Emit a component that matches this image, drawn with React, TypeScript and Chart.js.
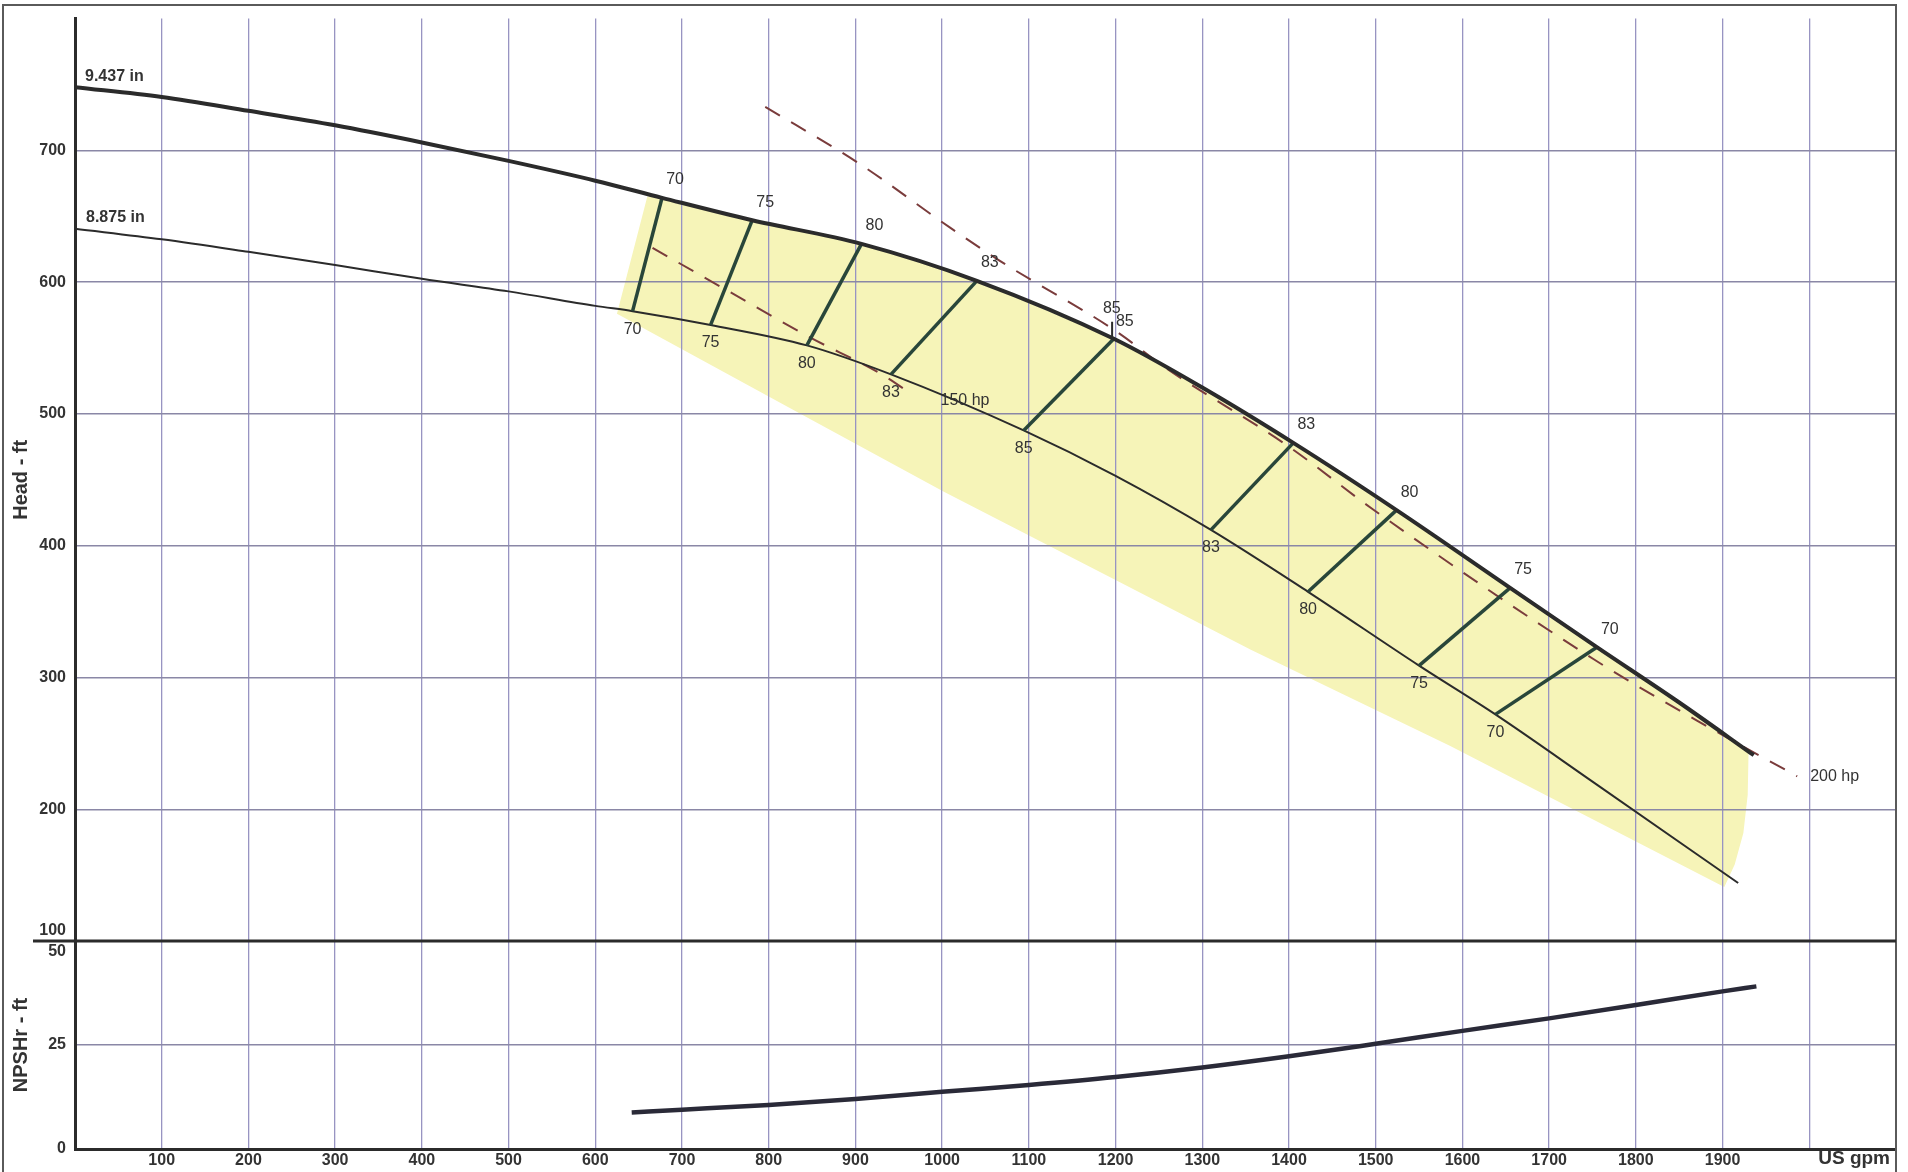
import React, { useEffect, useRef } from "react";
import { Chart, registerables } from "chart.js";

Chart.register(...registerables);

// ---------- data (flow in US gpm, head in ft, NPSHr in ft) ----------
const flow9437 = [0, 100, 200, 300, 400, 500, 600, 677, 781, 907, 1040, 1198, 1300, 1405, 1524, 1655, 1755, 1850, 1936];
const head9437 = [748, 740.5, 730, 719, 706, 692, 677, 664, 647, 629, 601, 557, 520, 478, 427, 368, 323, 281, 241];

const flow8875 = [0, 100, 200, 300, 400, 500, 600, 643, 733, 844, 941, 1094, 1200, 1310, 1422, 1550, 1638, 1750, 1918];
const head8875 = [640.5, 632.5, 623, 613, 602.5, 593, 582, 578, 567.5, 552, 530, 487.5, 453, 412, 365, 309, 272, 221, 144];

const flow150hp = [666, 750, 845, 933, 967];
const head150hp = [626, 594.5, 559, 529, 514];

const flow200hp = [796, 902, 1010, 1067, 1200, 1260, 1398, 1497, 1751, 1874, 1986];
const head200hp = [733, 691, 641, 616, 563, 534, 476, 427.5, 314, 266, 225];

const effLabels = [70, 75, 80, 83, 85, 83, 80, 75, 70];
const effFlowHigh = [677, 781, 907, 1040, 1198, 1405, 1524, 1655, 1755];
const effHeadHigh = [664, 647, 629, 601, 557, 478, 427, 368, 323];
const effFlowLow = [643, 733, 844, 941, 1094, 1310, 1422, 1550, 1638];
const effHeadLow = [578, 567.5, 552, 530, 487.5, 412, 365, 309, 272];

const bepMarkFlow = [1196, 1196];
const bepMarkHead = [557, 570];

const regionFlow = [660, 677, 781, 907, 1040, 1198, 1300, 1405, 1524, 1655, 1755, 1850, 1930, 1929, 1924, 1914, 1902, 1586, 1356, 1200, 1002, 837, 625, 660];
const regionHead = [665, 664, 647, 629, 601, 557, 520, 478, 427, 368, 323, 281, 244, 211, 182, 158, 141, 248, 321, 374, 441, 500, 576, 665];

const npshFlow = [642, 700, 800, 900, 1000, 1100, 1200, 1300, 1400, 1500, 1600, 1700, 1800, 1900, 1939];
const npshValues = [8.8, 9.45, 10.6, 12.0, 13.75, 15.4, 17.3, 19.6, 22.3, 25.3, 28.4, 31.4, 34.6, 37.9, 39.1];

const curveNames = ["9.437 in", "8.875 in"];
const powerNames = ["150 hp", "200 hp"];
const flowUnit = "US gpm";
const headTitle = "Head - ft";
const npshTitle = "NPSHr - ft";

// ---------- styles ----------
const FONT = '"Liberation Sans", Arial, Helvetica, sans-serif';
const GRID_V = "#9894c2";
const GRID_H = "#8a87a6";
const DARK = "#2b2b2b";
const EFF = "#29463a";
const DASH = "#7a3c3c";
const TEXT = "#333333";
const NONE = "rgba(0,0,0,0)";

const pts = (xs: number[], ys: number[]) => xs.map((x, i) => ({ x, y: ys[i] }));

const annotate = {
  id: "annotate",
  afterDraw(chart: any) {
    const { ctx, scales } = chart;
    const xs = scales.x;
    const ys = scales.y;
    const yn = scales.yN;
    const px = (f: number) => xs.getPixelForValue(f);
    const py = (h: number) => ys.getPixelForValue(h);
    ctx.save();

    // outer frame
    ctx.strokeStyle = "#5a5a5a";
    ctx.lineWidth = 2;
    ctx.strokeRect(3, 5, xs.right - 3, 1300);

    // separator between head and NPSH panels
    const sepY = ys.getPixelForValue(100);
    ctx.strokeStyle = DARK;
    ctx.lineWidth = 3;
    ctx.beginPath();
    ctx.moveTo(33, sepY);
    ctx.lineTo(xs.right, sepY);
    ctx.stroke();

    ctx.textBaseline = "middle";
    ctx.fillStyle = TEXT;

    // 100 / 50 labels around the separator
    ctx.font = `bold 16px ${FONT}`;
    ctx.textAlign = "right";
    ctx.fillText("100", xs.left - 9, sepY - 10);
    ctx.fillText("50", xs.left - 9, yn.getPixelForValue(50) + 10.5);

    // unit label on the flow axis
    ctx.font = `bold 19px ${FONT}`;
    ctx.fillText(flowUnit, xs.right - 6, xs.top + 10);

    // efficiency labels
    ctx.font = `16px ${FONT}`;
    ctx.textAlign = "center";
    effLabels.forEach((v, i) => {
      const hx = px(effFlowHigh[i]);
      const hy = py(effHeadHigh[i]);
      if (v === 85) {
        ctx.fillText(String(v), hx - 2, hy - 30);
        ctx.fillText(String(v), hx + 11, hy - 17);
      } else {
        ctx.fillText(String(v), hx + 13, hy - 18);
      }
      ctx.fillText(String(v), px(effFlowLow[i]), py(effHeadLow[i]) + 18);
    });

    // curve names
    ctx.textAlign = "left";
    ctx.font = `bold 16px ${FONT}`;
    ctx.fillText(curveNames[0], px(flow9437[0]) + 10, py(head9437[0]) - 11);
    ctx.fillText(curveNames[1], px(flow8875[0]) + 11, py(head8875[0]) - 11);

    // power lines
    ctx.font = `16px ${FONT}`;
    const l150 = flow150hp.length - 1;
    ctx.fillText(powerNames[0], px(flow150hp[l150]) + 27, py(head150hp[l150]) + 5);
    const l200 = flow200hp.length - 1;
    ctx.fillText(powerNames[1], px(flow200hp[l200]) + 13, py(head200hp[l200]));

    ctx.restore();
  },
};

export default function App() {
  const ref = useRef<HTMLCanvasElement>(null);

  useEffect(() => {
    const canvas = ref.current;
    if (!canvas) return;
    Chart.defaults.font.family = FONT;

    const datasets: any[] = [];
    const base = { pointRadius: 0, pointHoverRadius: 0, fill: false, tension: 0 };

    datasets.push({
      ...base,
      label: "9.437 in",
      data: pts(flow9437, head9437),
      borderColor: DARK,
      borderWidth: 4,
      cubicInterpolationMode: "monotone",
      order: 1,
    });
    datasets.push({
      ...base,
      label: "8.875 in",
      data: pts(flow8875, head8875),
      borderColor: DARK,
      borderWidth: 2,
      cubicInterpolationMode: "monotone",
      order: 3,
    });
    effLabels.forEach((v, i) => {
      datasets.push({
        ...base,
        label: "eff " + v,
        data: [
          { x: effFlowHigh[i], y: effHeadHigh[i] },
          { x: effFlowLow[i], y: effHeadLow[i] },
        ],
        borderColor: EFF,
        borderWidth: 3.5,
        order: 2,
      });
    });
    datasets.push({
      ...base,
      label: "bep mark",
      data: pts(bepMarkFlow, bepMarkHead),
      borderColor: DARK,
      borderWidth: 2,
      order: 2,
    });
    datasets.push({
      ...base,
      label: "150 hp",
      data: pts(flow150hp, head150hp),
      borderColor: DASH,
      borderWidth: 2,
      borderDash: [17, 13],
      cubicInterpolationMode: "monotone",
      order: 4,
    });
    datasets.push({
      ...base,
      label: "200 hp",
      data: pts(flow200hp, head200hp),
      borderColor: DASH,
      borderWidth: 2,
      borderDash: [17, 13],
      cubicInterpolationMode: "monotone",
      order: 4,
    });
    datasets.push({
      ...base,
      label: "NPSHr",
      data: pts(npshFlow, npshValues),
      yAxisID: "yN",
      borderColor: "#2a2a38",
      borderWidth: 4.5,
      cubicInterpolationMode: "monotone",
      order: 1,
    });
    datasets.push({
      ...base,
      label: "region",
      data: pts(regionFlow, regionHead),
      borderColor: NONE,
      borderWidth: 0,
      backgroundColor: "#f6f4b8",
      fill: "shape",
      order: 50,
    });

    const tickFont = { family: FONT, size: 16, weight: "bold" as const };
    const titleFont = { family: FONT, size: 20, weight: "bold" as const };

    const chart = new Chart(canvas, {
      type: "line",
      data: { datasets },
      plugins: [annotate],
      options: {
        animation: false,
        responsive: false,
        devicePixelRatio: 1,
        layout: { padding: { left: 0, right: 12, top: 13, bottom: 0 } },
        plugins: {
          legend: { display: false },
          tooltip: { enabled: false },
          filler: { drawTime: "beforeDraw" },
        } as any,
        scales: {
          x: {
            type: "linear",
            min: 0,
            max: 2100,
            position: "bottom",
            afterFit: (s: any) => {
              s.height = 23;
            },
            ticks: {
              stepSize: 100,
              autoSkip: false,
              maxRotation: 0,
              padding: 2,
              color: TEXT,
              font: tickFont,
              callback: (v: any) => (v >= 100 && v <= 1900 ? String(v) : ""),
            },
            grid: {
              drawTicks: false,
              lineWidth: 1.3,
              color: (c: any) => (c.tick && (c.tick.value === 0 || c.tick.value === 2100) ? NONE : GRID_V),
            },
            border: { display: true, color: DARK, width: 3 },
          },
          y: {
            type: "linear",
            position: "left",
            min: 100,
            max: 800,
            stack: "panels",
            stackWeight: 927,
            weight: 2,
            afterFit: (s: any) => {
              s.width = 75;
            },
            ticks: {
              stepSize: 100,
              padding: 9,
              color: TEXT,
              font: tickFont,
              callback: (v: any) => (v > 100 && v < 800 ? String(v) : ""),
            },
            grid: {
              drawTicks: false,
              lineWidth: 1.5,
              color: (c: any) => (c.tick && (c.tick.value === 100 || c.tick.value === 800) ? NONE : GRID_H),
            },
            border: { display: true, color: DARK, width: 3 },
            title: { display: true, text: headTitle, color: TEXT, font: titleFont, padding: { top: 9, bottom: 0 } },
          },
          yN: {
            type: "linear",
            position: "left",
            min: 0,
            max: 50,
            stack: "panels",
            stackWeight: 209,
            weight: 1,
            afterFit: (s: any) => {
              s.width = 75;
            },
            ticks: {
              stepSize: 25,
              padding: 9,
              color: TEXT,
              font: tickFont,
              callback: (v: any) => (v < 50 ? String(v) : ""),
            },
            grid: {
              drawTicks: false,
              lineWidth: 1.5,
              color: (c: any) => (c.tick && (c.tick.value === 0 || c.tick.value === 50) ? NONE : GRID_H),
            },
            border: { display: true, color: DARK, width: 3 },
            title: { display: true, text: npshTitle, color: TEXT, font: titleFont, padding: { top: 9, bottom: 0 } },
          },
        } as any,
      },
    });

    return () => {
      chart.destroy();
    };
  }, []);

  return (
    <div style={{ position: "fixed", left: 0, top: 0, width: 1908, height: 1172, background: "#ffffff" }}>
      <canvas ref={ref} width={1908} height={1172} style={{ display: "block", width: 1908, height: 1172 }} />
    </div>
  );
}
